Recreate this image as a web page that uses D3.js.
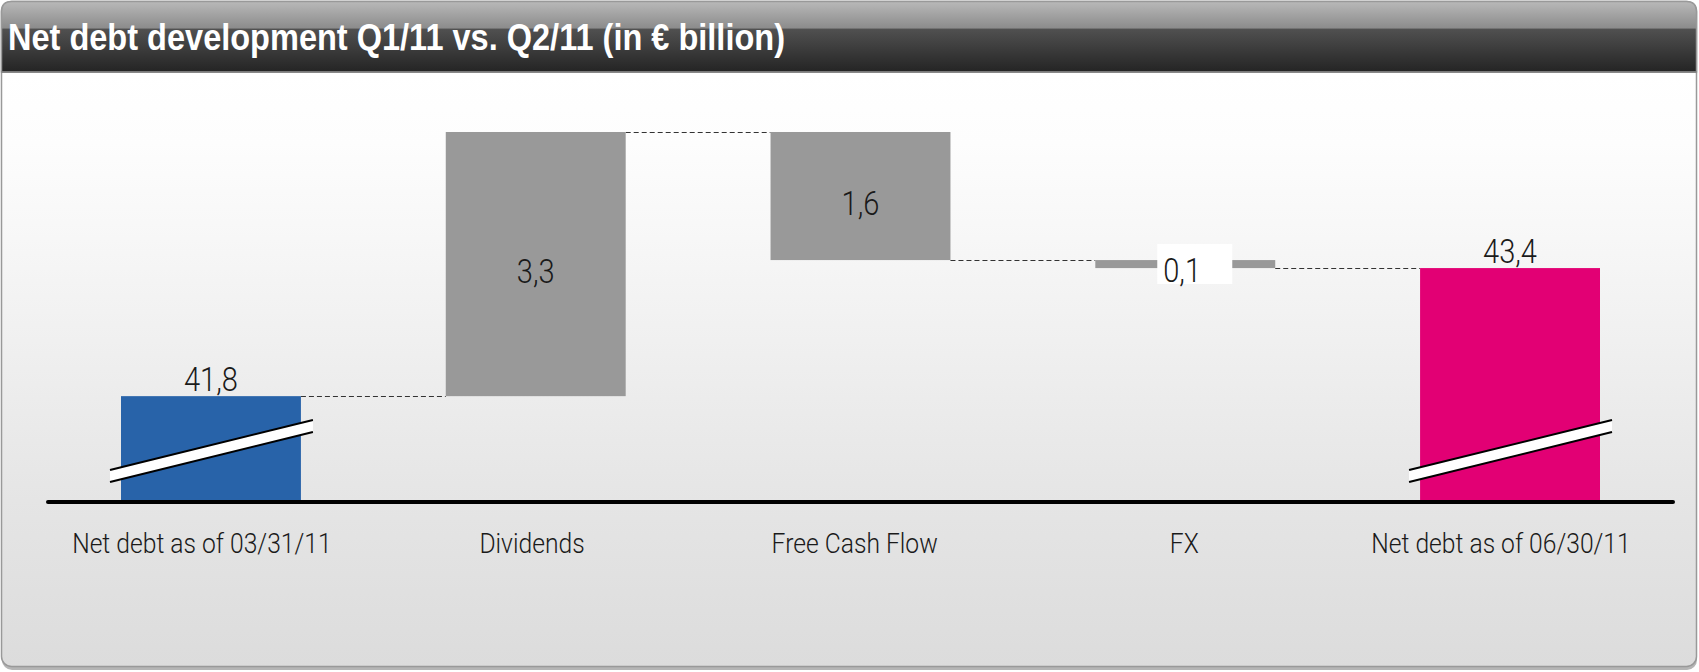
<!DOCTYPE html>
<html>
<head>
<meta charset="utf-8">
<script src="https://cdn.jsdelivr.net/npm/d3@7"></script>
<style>
  html, body { margin: 0; padding: 0; background: #ffffff; }
  svg { display: block; }
</style>
</head>
<body>
<svg id="chart"></svg>
<script>
const width = 1699;
const height = 672;

// chart data
const categories = ["Net debt as of 03/31/11", "Dividends", "Free Cash Flow", "FX", "Net debt as of 06/30/11"];
const values = [41.8, 3.3, -1.6, -0.1, 43.4];
const kinds = ["total", "delta", "delta", "delta", "total"];
const valueLabels = ["41,8", "3,3", "1,6", "0,1", "43,4"];
const title = "Net debt development Q1/11 vs. Q2/11 (in \u20ac billion)";

const colors = {
    first: "#2863a9",
    delta: "#999999",
    last: "#e20074"
};

// running totals for the waterfall
let running = 0;
const bars = categories.map((c, i) => {
    let from, to;
    if (kinds[i] === "total") {
        from = null;
        to = values[i];
    } else {
        from = running;
        to = running + values[i];
    }
    running = to;
    return { name: c, kind: kinds[i], from, to, label: valueLabels[i], i };
});

const svg = d3.select("#chart")
    .attr("width", width)
    .attr("height", height);

const defs = svg.append("defs");

const bg = defs.append("linearGradient")
    .attr("id", "bg")
    .attr("gradientUnits", "userSpaceOnUse")
    .attr("x1", 0).attr("x2", 0).attr("y1", 72).attr("y2", 666);
[[0, "#ffffff"], [0.12, "#fdfdfd"], [0.28, "#f7f7f7"], [0.72, "#e5e5e5"], [1, "#dcdcdc"]]
    .forEach(s => bg.append("stop").attr("offset", s[0]).attr("stop-color", s[1]));

const head = defs.append("linearGradient")
    .attr("id", "head")
    .attr("gradientUnits", "userSpaceOnUse")
    .attr("x1", 0).attr("x2", 0).attr("y1", 2).attr("y2", 72);
[[0, "#b8b8b8"], [0.37, "#8c8c8c"], [0.39, "#505050"], [1, "#242424"]]
    .forEach(s => head.append("stop").attr("offset", s[0]).attr("stop-color", s[1]));

// panel
svg.append("rect")
    .attr("x", 2).attr("y", 5)
    .attr("width", 1695).attr("height", 665)
    .attr("rx", 10)
    .attr("fill", "#b5b5b5");

svg.append("rect")
    .attr("x", 1.5).attr("y", 1.5)
    .attr("width", 1695).attr("height", 665)
    .attr("rx", 10)
    .attr("fill", "url(#bg)")
    .attr("stroke", "#999999")
    .attr("stroke-width", 1.5);

const r = 10, x0 = 1.5, x1 = 1696.5, y0 = 1.5, y1 = 72;
svg.append("path")
    .attr("d", `M${x0},${y1} V${y0 + r} Q${x0},${y0} ${x0 + r},${y0} H${x1 - r} Q${x1},${y0} ${x1},${y0 + r} V${y1} Z`)
    .attr("fill", "url(#head)")
    .attr("stroke", "#999999")
    .attr("stroke-width", 1.5);

svg.append("line")
    .attr("x1", x0).attr("x2", x1)
    .attr("y1", 72).attr("y2", 72)
    .attr("stroke", "#7a7a7a")
    .attr("stroke-width", 1.5);

svg.append("text")
    .attr("x", 8)
    .attr("y", 50)
    .attr("fill", "#ffffff")
    .style("font-family", "'Liberation Sans', Arial, sans-serif")
    .style("font-weight", "bold")
    .style("font-size", "36px")
    .attr("textLength", 777)
    .attr("lengthAdjust", "spacingAndGlyphs")
    .text(title);

// scales
const x = d3.scaleBand()
    .domain(categories)
    .range([121, 1600])
    .paddingInner(0.446)
    .paddingOuter(0);

const y = d3.scaleLinear()
    .domain([40.49, 45.1])
    .range([501, 132]);

const bw = x.bandwidth();
const base = y.range()[0];

const barColor = d => d.kind === "delta" ? colors.delta : (d.i === 0 ? colors.first : colors.last);
const barTop = d => d.kind === "total" ? y(d.to) : y(Math.max(d.from, d.to));
const barBottom = d => d.kind === "total" ? base : y(Math.min(d.from, d.to));

// connectors
const links = bars.slice(0, -1).map((d, i) => ({ a: d, b: bars[i + 1], v: d.to }));
svg.append("g")
    .selectAll("line")
    .data(links)
    .join("line")
    .attr("x1", d => x(d.a.name) + bw)
    .attr("x2", d => x(d.b.name))
    .attr("y1", d => Math.round(y(d.v)) + 0.5)
    .attr("y2", d => Math.round(y(d.v)) + 0.5)
    .attr("stroke", "#333333")
    .attr("stroke-width", 1)
    .attr("stroke-dasharray", "5,3");

// bars
svg.append("g")
    .selectAll("rect")
    .data(bars)
    .join("rect")
    .attr("x", d => x(d.name))
    .attr("y", barTop)
    .attr("width", bw)
    .attr("height", d => barBottom(d) - barTop(d))
    .attr("fill", barColor);

// axis break marks on the total bars
const breaks = svg.append("g")
    .selectAll("g")
    .data(bars.filter(d => d.kind === "total"))
    .join("g");

const bl = d => x(d.name) - 11;
const br = d => x(d.name) + bw + 12;
breaks.append("polygon")
    .attr("points", d => [
        [bl(d), base - 31], [br(d), base - 81],
        [br(d), base - 69], [bl(d), base - 19]
    ].join(" "))
    .attr("fill", "#ffffff");
breaks.append("line")
    .attr("x1", bl).attr("x2", br)
    .attr("y1", base - 31).attr("y2", base - 81)
    .attr("stroke", "#000000").attr("stroke-width", 2);
breaks.append("line")
    .attr("x1", bl).attr("x2", br)
    .attr("y1", base - 19).attr("y2", base - 69)
    .attr("stroke", "#000000").attr("stroke-width", 2);

// baseline
svg.append("line")
    .attr("x1", 48).attr("x2", 1673)
    .attr("y1", base + 1).attr("y2", base + 1)
    .attr("stroke", "#000000")
    .attr("stroke-width", 4)
    .attr("stroke-linecap", "round");

const font = "Roboto, 'Liberation Sans', Arial, sans-serif";
const squeeze = f => sel => sel.each(function () {
    const len = this.getComputedTextLength();
    d3.select(this)
        .attr("textLength", len * f)
        .attr("lengthAdjust", "spacingAndGlyphs");
});

// value labels
const small = d => d.kind === "delta" && barBottom(d) - barTop(d) < 30;

svg.append("g")
    .selectAll("rect")
    .data(bars.filter(small))
    .join("rect")
    .attr("x", d => x(d.name) + bw / 2 - 28)
    .attr("y", d => (barTop(d) + barBottom(d)) / 2 - 20)
    .attr("width", 75)
    .attr("height", 40)
    .attr("fill", "#ffffff");

svg.append("g")
    .selectAll("text")
    .data(bars)
    .join("text")
    .attr("x", d => small(d) ? x(d.name) + bw / 2 - 22 : x(d.name) + bw / 2)
    .attr("y", d => {
        if (d.kind === "total") return barTop(d) - 5;
        const mid = (barTop(d) + barBottom(d)) / 2;
        return small(d) ? mid + 17.5 : mid + 19;
    })
    .attr("text-anchor", d => small(d) ? "start" : "middle")
    .attr("fill", "#1a1a1a")
    .style("font-family", font)
    .style("font-weight", 300)
    .style("font-size", "33px")
    .text(d => d.label)
    .call(squeeze(0.88));

// category labels, long ones sit slightly left of the bar centre
svg.append("g")
    .selectAll("text")
    .data(bars)
    .join("text")
    .attr("y", 553)
    .attr("text-anchor", "middle")
    .attr("fill", "#1a1a1a")
    .style("font-family", font)
    .style("font-weight", 300)
    .style("font-size", "28px")
    .text(d => d.name)
    .call(squeeze(0.88))
    .attr("x", function (d) {
        return x(d.name) + bw / 2 - (+this.getAttribute("textLength")) * 0.035;
    });
</script>
</body>
</html>
